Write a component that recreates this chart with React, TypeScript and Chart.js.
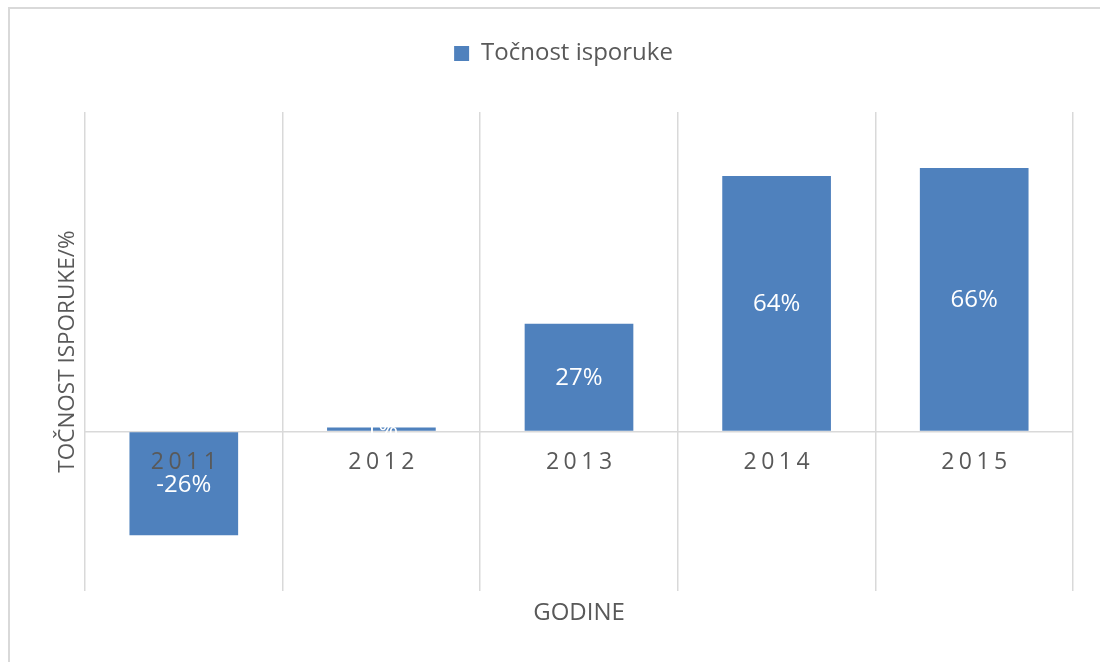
import React, { useEffect, useRef } from "react";
import { Chart, registerables } from "chart.js";

Chart.register(...registerables);

const categories: string[] = ["2011", "2012", "2013", "2014", "2015"];
const values: number[] = [-26, 1, 27, 64, 66];
const seriesName = "Točnost isporuke";
const yTitle = "TOČNOST ISPORUKE/%";
const xTitle = "GODINE";
const yMin = -40;
const yMax = 80;

const FONT = "'Open Sans', 'Noto Sans', sans-serif";
const TEXT = "#595959";
const BAR = "#4F81BD";
const GRID = "#d9d9d9";

const legendSpacer = {
  id: "legendSpacer",
  beforeLayout(chart: any) {
    const legend = chart.legend;
    if (legend && !legend.__spaced) {
      const orig = legend.fit;
      legend.fit = function () {
        orig.call(this);
        this.height += 36.5;
      };
      legend.__spaced = true;
    }
  },
};

const categoryLabels = {
  id: "categoryLabels",
  afterDatasetsDraw(chart: any) {
    const ctx = chart.ctx;
    const xs = chart.scales.x;
    const ys = chart.scales.y;
    const y0 = ys.getPixelForValue(0);
    const spacing = 4.5;
    ctx.save();
    ctx.font = `23px ${FONT}`;
    ctx.fillStyle = TEXT;
    ctx.textAlign = "center";
    ctx.textBaseline = "middle";
    try {
      (ctx as any).letterSpacing = `${spacing}px`;
    } catch (e) {}
    categories.forEach((c, i) => {
      ctx.fillText(c, xs.getPixelForValue(i) + spacing / 2, y0 + 31);
    });
    ctx.restore();
  },
};

const valueLabels = {
  id: "valueLabels",
  afterDatasetsDraw(chart: any) {
    const ctx = chart.ctx;
    const meta = chart.getDatasetMeta(0);
    ctx.save();
    ctx.font = `24px ${FONT}`;
    ctx.fillStyle = "#ffffff";
    ctx.textAlign = "center";
    ctx.textBaseline = "middle";
    meta.data.forEach((el: any, i: number) => {
      const p = el.getProps(["x", "y", "base"], true);
      ctx.fillText(`${values[i]}%`, p.x, (p.y + p.base) / 2 + 1);
    });
    ctx.restore();
  },
};

export default function App() {
  const ref = useRef<HTMLCanvasElement | null>(null);
  useEffect(() => {
    if (!ref.current) return;
    const chart = new Chart(ref.current, {
      type: "bar",
      data: {
        labels: categories,
        datasets: [
          {
            label: seriesName,
            data: values,
            backgroundColor: BAR,
            borderWidth: 0,
            categoryPercentage: 1,
            barPercentage: 0.55,
          },
        ],
      },
      options: {
        animation: false,
        responsive: true,
        maintainAspectRatio: false,
        layout: { padding: { left: 44, right: 43, top: 0, bottom: 34 } },
        plugins: {
          legend: {
            position: "top",
            labels: {
              boxWidth: 15,
              boxHeight: 15,
              color: TEXT,
              font: { family: FONT, size: 24 },
              padding: 32.5,
            },
          },
          tooltip: { enabled: false },
        },
        scales: {
          x: {
            grid: {
              display: true,
              color: GRID,
              lineWidth: 1.5,
              offset: true,
              drawTicks: false,
            },
            border: { display: false },
            ticks: { display: false },
            title: {
              display: true,
              text: xTitle,
              color: TEXT,
              font: { family: FONT, size: 24 },
              padding: { top: 8, bottom: 0 },
            },
          },
          y: {
            min: yMin,
            max: yMax,
            grid: {
              display: true,
              drawTicks: false,
              lineWidth: 1.5,
              color: (c: any) =>
                c.tick && c.tick.value === 0 ? GRID : "rgba(0,0,0,0)",
            },
            border: { display: false },
            ticks: { display: false, stepSize: 10 },
            title: {
              display: true,
              text: yTitle,
              color: TEXT,
              font: { family: FONT, size: 22.5 },
              padding: { top: 0, bottom: 4 },
            },
          },
        },
      },
      plugins: [legendSpacer, categoryLabels, valueLabels],
    });
    return () => chart.destroy();
  }, []);

  return (
    <div
      style={{
        position: "fixed",
        left: 0,
        top: 0,
        width: 1100,
        height: 662,
        overflow: "hidden",
        background: "#fff",
      }}
    >
      <div
        style={{
          position: "absolute",
          left: 8,
          top: 7,
          width: 1200,
          height: 700,
          borderLeft: `2px solid ${GRID}`,
          borderTop: `2px solid ${GRID}`,
        }}
      />
      <div
        style={{
          position: "absolute",
          left: 10,
          top: 9,
          width: 1106,
          height: 653,
        }}
      >
        <canvas ref={ref} />
      </div>
    </div>
  );
}
